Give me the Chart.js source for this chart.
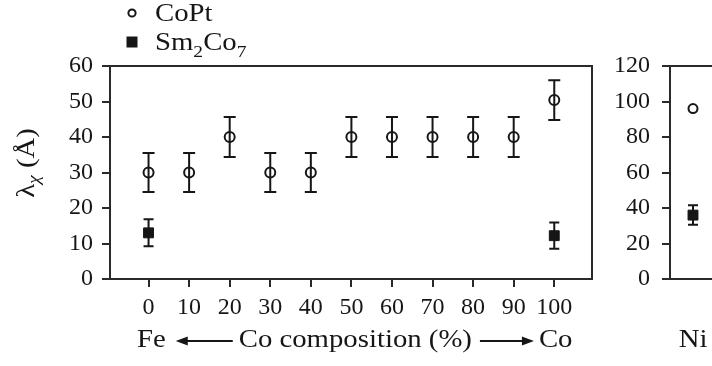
<!DOCTYPE html>
<html lang="en">
<head>
<meta charset="UTF-8">
<title>Correlation length vs Co composition</title>
<script src="https://cdn.jsdelivr.net/npm/chart.js"></script>
<style>
    html, body { margin: 0; padding: 0; background: #fff; width: 712px; height: 366px; overflow: hidden; }
    #left { position: absolute; left: 0; top: 0; width: 600px; height: 366px; }
    #right { position: absolute; left: 600px; top: 0; width: 160px; height: 366px; }
</style>
</head>
<body>
<div id="left"><canvas id="compChart"></canvas></div>
<div id="right"><canvas id="niChart"></canvas></div>
<script>
// data
const compTicks = [0, 10, 20, 30, 40, 50, 60, 70, 80, 90, 100];
const coptComp = [0, 10, 20, 30, 40, 50, 60, 70, 80, 90, 100];
const coptLambda = [30, 30, 40, 30, 30, 40, 40, 40, 40, 40, 50.4];
const coptErr = [5.5, 5.5, 5.6, 5.5, 5.5, 5.6, 5.6, 5.6, 5.6, 5.6, 5.6];
const smComp = [0, 100];
const smLambda = [13, 12.2];
const smErr = [3.8, 3.7];

const niLabel = 'Ni';
const niCopt = [96];
const niCoptErr = [0];
const niSm = [36];
const niSmErr = [5.5];

const INK = '#161616';
const AXIS = '#2a2a2a';
const SERIF = '"Liberation Serif", "DejaVu Serif", serif';
const SX = 1.15; // the original lettering is a little wide

function stretchText(ctx, text, x, y, size, italic) {
    ctx.save();
    ctx.font = (italic ? 'italic ' : '') + size + 'px ' + SERIF;
    const w = ctx.measureText(text).width * SX;
    ctx.translate(x, y);
    ctx.scale(SX, 1);
    ctx.textAlign = 'left';
    ctx.textBaseline = 'alphabetic';
    ctx.fillStyle = INK;
    ctx.fillText(text, 0, 0);
    ctx.restore();
    return w;
}

function textWidth(ctx, text, size, italic) {
    ctx.save();
    ctx.font = (italic ? 'italic ' : '') + size + 'px ' + SERIF;
    const w = ctx.measureText(text).width * SX;
    ctx.restore();
    return w;
}

// vertical error bars with caps, under the markers
const errorBars = {
    id: 'errorBars',
    beforeDatasetsDraw(chart) {
        const ctx = chart.ctx;
        const xs = chart.scales.x, ys = chart.scales.y;
        chart.data.datasets.forEach(ds => {
            ds.data.forEach((p, i) => {
                const e = ds.errors[i];
                if (!e) return;
                const x = xs.getPixelForValue(p.x);
                const y1 = ys.getPixelForValue(p.y + e);
                const y2 = ys.getPixelForValue(p.y - e);
                ctx.save();
                ctx.strokeStyle = INK;
                ctx.lineWidth = 2;
                ctx.beginPath();
                ctx.moveTo(x, y1); ctx.lineTo(x, y2);
                ctx.moveTo(x - ds.capHalf, y1); ctx.lineTo(x + ds.capHalf, y1);
                ctx.moveTo(x - ds.capHalf, y2); ctx.lineTo(x + ds.capHalf, y2);
                ctx.stroke();
                ctx.restore();
            });
        });
    }
};

// box around the plot
const frame = {
    id: 'frame',
    beforeDatasetsDraw(chart) {
        const a = chart.chartArea, ctx = chart.ctx;
        ctx.save();
        ctx.strokeStyle = AXIS;
        ctx.lineWidth = 2;
        ctx.strokeRect(a.left, a.top, a.right - a.left, a.bottom - a.top);
        ctx.restore();
    }
};

// legend at top-left, digits in labels become subscripts
const legendBox = {
    id: 'legendBox',
    afterDraw(chart) {
        const ctx = chart.ctx;
        const rows = [13, 42];
        chart.data.datasets.forEach((ds, k) => {
            const cy = rows[k];
            ctx.save();
            ctx.strokeStyle = INK;
            ctx.fillStyle = INK;
            ctx.lineWidth = 2;
            if (ds.pointStyle === 'circle') {
                ctx.beginPath();
                ctx.arc(132, cy, 3.6, 0, Math.PI * 2);
                ctx.stroke();
            } else {
                ctx.fillRect(126.5, cy - 5.5, 11, 11);
            }
            ctx.restore();
            let x = 155;
            const base = cy + 7.5;
            ds.label.split(/(\d+)/).forEach(part => {
                if (!part) return;
                if (/^\d+$/.test(part)) x += stretchText(ctx, part, x, base + 7, 17);
                else x += stretchText(ctx, part, x, base, 25);
            });
        });
    }
};

function drawArrow(ctx, from, to, y) {
    const dir = Math.sign(to - from);
    ctx.save();
    ctx.strokeStyle = INK;
    ctx.fillStyle = INK;
    ctx.lineWidth = 2;
    ctx.beginPath();
    ctx.moveTo(from, y);
    ctx.lineTo(to - dir * 8, y);
    ctx.stroke();
    ctx.beginPath();
    ctx.moveTo(to, y);
    ctx.lineTo(to - dir * 12, y - 4.5);
    ctx.lineTo(to - dir * 12, y + 4.5);
    ctx.closePath();
    ctx.fill();
    ctx.restore();
}

const compTitles = {
    id: 'compTitles',
    afterDraw(chart) {
        const ctx = chart.ctx;
        const base = 347;
        let x = 137;
        x += stretchText(ctx, 'Fe', x, base, 25);
        drawArrow(ctx, x + 67, x + 10, base - 6);
        x += 73;
        x += stretchText(ctx, 'Co composition (%)', x, base, 25);
        drawArrow(ctx, x + 8, x + 62, base - 6);
        x += 67;
        stretchText(ctx, 'Co', x, base, 25);

        // rotated y title: lambda with subscript chi
        ctx.save();
        ctx.translate(34, 163);
        ctx.rotate(-Math.PI / 2);
        const w = textWidth(ctx, 'λ', 25) + textWidth(ctx, 'χ', 17, true) + textWidth(ctx, ' (Å)', 25);
        let t = -w / 2;
        t += stretchText(ctx, 'λ', t, 0, 25);
        t += stretchText(ctx, 'χ', t, 5, 17, true);
        stretchText(ctx, ' (Å)', t, 0, 25);
        ctx.restore();
    }
};

const niTitle = {
    id: 'niTitle',
    afterDraw(chart) {
        const ctx = chart.ctx;
        const cx = chart.scales.x.getPixelForValue(0);
        const w = textWidth(ctx, niLabel, 25);
        stretchText(ctx, niLabel, cx - w / 2, 347, 25);
    }
};

const tickFont = { family: SERIF, size: 24 };
const gridOpts = { drawOnChartArea: false, drawTicks: true, tickLength: 8, tickWidth: 2, tickColor: AXIS, lineWidth: 2, color: AXIS };

new Chart(document.getElementById('compChart'), {
    type: 'scatter',
    data: {
        datasets: [
            {
                label: 'CoPt',
                data: coptComp.map((x, i) => ({ x: x, y: coptLambda[i] })),
                errors: coptErr,
                capHalf: 6,
                pointStyle: 'circle',
                pointRadius: 5,
                pointBorderWidth: 2,
                pointBorderColor: INK,
                pointBackgroundColor: 'rgba(0,0,0,0)'
            },
            {
                label: 'Sm2Co7',
                data: smComp.map((x, i) => ({ x: x, y: smLambda[i] })),
                errors: smErr,
                capHalf: 5,
                pointStyle: 'rect',
                pointRadius: 7,
                pointBorderWidth: 1,
                pointBorderColor: INK,
                pointBackgroundColor: INK
            }
        ]
    },
    options: {
        responsive: true,
        maintainAspectRatio: false,
        animation: false,
        layout: { padding: { top: 66, right: 5, left: 0, bottom: 0 } },
        plugins: { legend: { display: false }, tooltip: { enabled: false } },
        scales: {
            x: {
                type: 'linear',
                min: -9.5,
                max: 109.3,
                afterBuildTicks: s => { s.ticks = compTicks.map(v => ({ value: v })); },
                afterFit: s => { s.height = 87; },
                ticks: { font: tickFont, color: INK, padding: 6, autoSkip: false, maxRotation: 0 },
                grid: gridOpts,
                border: { display: false }
            },
            y: {
                min: 0,
                max: 60,
                afterFit: s => { s.width = 110; },
                ticks: { stepSize: 10, font: tickFont, color: INK, padding: 9 },
                grid: gridOpts,
                border: { display: false }
            }
        }
    },
    plugins: [frame, errorBars, legendBox, compTitles]
});

new Chart(document.getElementById('niChart'), {
    type: 'scatter',
    data: {
        datasets: [
            {
                label: 'CoPt',
                data: niCopt.map(v => ({ x: 0, y: v })),
                errors: niCoptErr,
                capHalf: 5,
                pointStyle: 'circle',
                pointRadius: 4.5,
                pointBorderWidth: 2,
                pointBorderColor: INK,
                pointBackgroundColor: 'rgba(0,0,0,0)'
            },
            {
                label: 'Sm2Co7',
                data: niSm.map(v => ({ x: 0, y: v })),
                errors: niSmErr,
                capHalf: 5,
                pointStyle: 'rect',
                pointRadius: 7,
                pointBorderWidth: 1,
                pointBorderColor: INK,
                pointBackgroundColor: INK
            }
        ]
    },
    options: {
        responsive: true,
        maintainAspectRatio: false,
        animation: false,
        layout: { padding: { top: 66, right: 44, left: 0, bottom: 0 } },
        plugins: { legend: { display: false }, tooltip: { enabled: false } },
        scales: {
            x: {
                type: 'linear',
                min: -1,
                max: 1,
                afterFit: s => { s.height = 87; },
                ticks: { display: false },
                grid: { display: false },
                border: { display: false }
            },
            y: {
                min: 0,
                max: 120,
                afterFit: s => { s.width = 70; },
                ticks: { stepSize: 20, font: tickFont, color: INK, padding: 12 },
                grid: gridOpts,
                border: { display: false }
            }
        }
    },
    plugins: [frame, errorBars, niTitle]
});
</script>
</body>
</html>
